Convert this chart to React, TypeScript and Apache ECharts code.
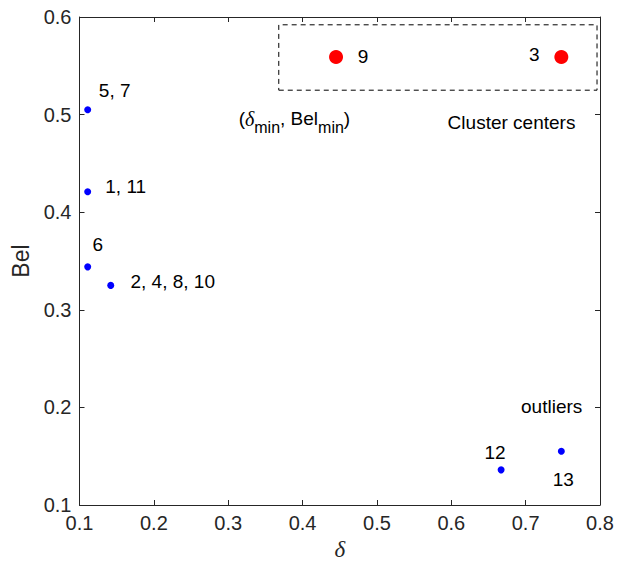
import React, { useEffect, useRef } from "react";
import * as echarts from "echarts";

// Cluster centers (red)
const centerLabels = ["9", "3"];
const centerDelta = [0.445, 0.748];
const centerBel = [0.559, 0.559];

// Other samples (blue)
const pointLabels = ["5, 7", "1, 11", "6", "2, 4, 8, 10", "12", "13"];
const pointDelta = [0.111, 0.111, 0.111, 0.142, 0.667, 0.748];
const pointBel = [0.505, 0.421, 0.344, 0.325, 0.136, 0.155];

// Dashed selection box
const boxDelta = [0.368, 0.796];
const boxBel = [0.525, 0.592];

// Annotations
const noteTexts = ["{a|(}{i|δ}{s|min}{a|, Bel}{s|min}{a|)}", "Cluster centers", "outliers"];
const noteDelta = [0.389, 0.681, 0.735];
const noteBel = [0.494, 0.492, 0.201];

// Axis ranges
const xMin = 0.1, xMax = 0.8, xStep = 0.1;
const yMin = 0.1, yMax = 0.6, yStep = 0.1;

// Label offsets (pixels, style only)
const centerOffsets = [[27, -1], [-27, -3]];
const pointOffsets = [[27, -19], [38, -5], [10, -22], [62, -4], [-6, -17], [2, 28]];

const AX = "#262626";
const FONT = "Liberation Sans, Arial, sans-serif";
const SERIF = "Liberation Serif, DejaVu Serif, serif";

export default function App() {
  const ref = useRef<HTMLDivElement>(null);
  useEffect(() => {
    document.body.style.margin = "0";
    const chart = echarts.init(ref.current!, undefined, { renderer: "svg" });
    const baseAxis = {
      type: "value" as const,
      axisLine: { show: true, onZero: false, lineStyle: { color: AX, width: 1 } },
      axisTick: { show: true, inside: true, length: 5, lineStyle: { color: AX } },
      splitLine: { show: false },
    };
    const boxData = [
      [boxDelta[0], boxBel[0]],
      [boxDelta[1], boxBel[0]],
      [boxDelta[1], boxBel[1]],
      [boxDelta[0], boxBel[1]],
      [boxDelta[0], boxBel[0]],
    ];
    const labelBase = { show: true, position: "inside", color: "#000", fontSize: 19, fontFamily: FONT };
    const option = {
      animation: false,
      textStyle: { fontFamily: FONT },
      grid: { left: 79.5, right: 34, top: 17, bottom: 62, containLabel: false },
      xAxis: [
        {
          ...baseAxis,
          min: xMin, max: xMax, interval: xStep, position: "bottom",
          axisLabel: { fontSize: 20, color: AX, margin: 8, fontFamily: FONT },
          name: "δ", nameLocation: "middle", nameGap: 30,
          nameTextStyle: { fontFamily: SERIF, fontStyle: "italic", fontSize: 23, color: AX },
        },
        {
          ...baseAxis,
          min: xMin, max: xMax, interval: xStep, position: "top",
          axisLabel: { show: false },
        },
      ],
      yAxis: [
        {
          ...baseAxis,
          min: yMin, max: yMax, interval: yStep, position: "left",
          axisLabel: { fontSize: 20, color: AX, margin: 8, fontFamily: FONT },
          name: "Bel", nameLocation: "middle", nameGap: 43, nameRotate: 90,
          nameTextStyle: { fontFamily: FONT, fontSize: 23, color: AX },
        },
        {
          ...baseAxis,
          min: yMin, max: yMax, interval: yStep, position: "right",
          axisLabel: { show: false },
        },
      ],
      series: [
        {
          type: "line",
          data: boxData,
          symbol: "none",
          lineStyle: { color: "#000", width: 1, type: [5, 4] },
          silent: true,
        },
        {
          type: "scatter",
          symbolSize: 7,
          itemStyle: { color: "#0000ff", opacity: 1 },
          data: pointDelta.map((d, i) => ({
            value: [d, pointBel[i]],
            label: { ...labelBase, formatter: pointLabels[i], offset: pointOffsets[i] },
          })),
        },
        {
          type: "scatter",
          symbolSize: 14,
          itemStyle: { color: "#ff0000", opacity: 1 },
          data: centerDelta.map((d, i) => ({
            value: [d, centerBel[i]],
            label: { ...labelBase, formatter: centerLabels[i], offset: centerOffsets[i] },
          })),
        },
        {
          type: "scatter",
          symbolSize: 1,
          itemStyle: { color: "rgba(0,0,0,0)", opacity: 1 },
          silent: true,
          data: noteDelta.map((d, i) => ({
            value: [d, noteBel[i]],
            label: {
              ...labelBase,
              formatter: noteTexts[i],
              rich: {
                a: { fontSize: 19, color: "#000", fontFamily: FONT, verticalAlign: "top", lineHeight: 22 },
                i: { fontSize: 20, color: "#000", fontFamily: SERIF, fontStyle: "italic", verticalAlign: "top", lineHeight: 22 },
                s: { fontSize: 16, color: "#000", fontFamily: FONT, verticalAlign: "top", lineHeight: 22, padding: [10, 0, 0, 0] },
              },
            },
          })),
        },
      ],
    };
    chart.setOption(option as any);
    return () => chart.dispose();
  }, []);
  return <div ref={ref} style={{ width: 634, height: 567 }} />;
}
